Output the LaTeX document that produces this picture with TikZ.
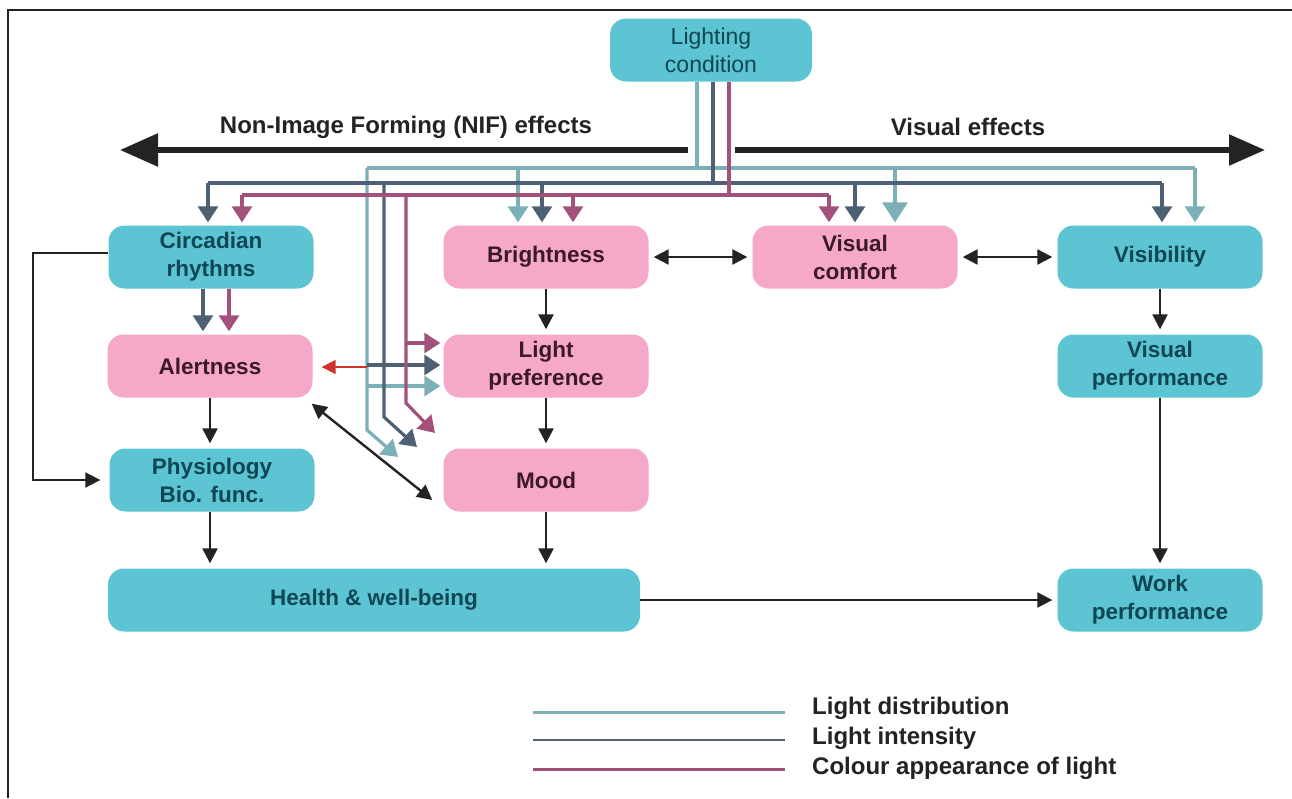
\documentclass[tikz,border=0pt]{standalone}
\usepackage{fontspec}
\setmainfont{Liberation Sans}
\usetikzlibrary{arrows.meta,calc}
\definecolor{boxteal}{RGB}{92,196,210}
\definecolor{boxpink}{RGB}{245,168,200}
\definecolor{tealtext}{RGB}{15,70,85}
\definecolor{pinktext}{RGB}{60,25,40}
\definecolor{distc}{RGB}{122,176,182}
\definecolor{intc}{RGB}{78,96,116}
\definecolor{colc}{RGB}{162,82,122}
\definecolor{redc}{RGB}{205,50,45}
\definecolor{ink}{RGB}{35,35,35}
\begin{document}
\begin{tikzpicture}[x=1pt,y=-1pt,
  boxbase/.style={rounded corners=16pt, minimum width=205pt, minimum height=63pt, inner sep=0pt, align=center, font=\fontsize{22.5}{28}\selectfont\bfseries},
  tealbox/.style={boxbase, fill=boxteal, text=tealtext},
  pinkbox/.style={boxbase, fill=boxpink, text=pinktext},
  dl/.style={distc, line width=3.2pt},
  il/.style={intc, line width=3.2pt},
  cl/.style={colc, line width=3.2pt},
  ctip/.style={-{Triangle[width=20pt,length=16pt]}, shorten >=3pt},
  bigtip/.style={-{Triangle[width=25pt,length=20pt]}, shorten >=3pt},
  blk/.style={ink, line width=2.4pt},
  btip/.style={-{Triangle[width=15pt,length=15pt]}, shorten >=5pt},
  bboth/.style={{Triangle[width=15pt,length=15pt]}-{Triangle[width=15pt,length=15pt]}, shorten >=5pt, shorten <=5pt},
  lbl/.style={text=ink, font=\fontsize{24}{28}\selectfont\bfseries, inner sep=0pt}
]
\useasboundingbox (0,0) rectangle (1292,798);
\fill[white] (0,0) rectangle (1292,798);
\draw[ink, line width=2.5pt] (8,798) -- (8,10) -- (1292,10);

% nodes
\node[tealbox, font=\fontsize{23}{28}\selectfont, minimum width=202pt] (lc) at (711,50) {Lighting\\condition};
\node[tealbox] (cr) at (211,257) {Circadian\\rhythms};
\node[pinkbox] (br) at (546,257) {Brightness};
\node[pinkbox] (vc) at (855,257) {Visual\\comfort};
\node[tealbox] (vis) at (1160,257) {Visibility};
\node[pinkbox] (al) at (210,366) {Alertness};
\node[pinkbox] (lp) at (546,366) {Light\\preference};
\node[tealbox] (vp) at (1160,366) {Visual\\performance};
\node[tealbox] (ph) at (212,480) {Physiology\\Bio. func.};
\node[pinkbox] (mo) at (546,480) {Mood};
\node[tealbox, minimum width=532pt] (hw) at (374,600) {Health \& well-being};
\node[tealbox] (wp) at (1160,600) {Work\\performance};

% big effect arrows
\coordinate (nifs) at (688,150);
\coordinate (nife) at (120,150);
\coordinate (ves) at (735,150);
\coordinate (vee) at (1265,150);
\draw[ink, line width=5.5pt, -{Triangle[width=32pt,length=38pt]}] (nifs) -- (nife);
\draw[ink, line width=5.5pt, -{Triangle[width=30pt,length=36pt]}] (ves) -- (vee);
\node[lbl] (nifl) at (406,127) {Non-Image Forming (NIF) effects};
\node[lbl] (vel) at (968,127) {Visual effects};

% light distribution
\draw[dl] ([xshift=-14pt]lc.south) -- (697,168);
\draw[dl] (367,168) -- (1195,168);
\draw[dl,ctip] (518,168) -- ([xshift=-28pt]br.north);
\draw[dl,bigtip] (895,168) -- ([xshift=40pt]vc.north);
\draw[dl,ctip] (1195,168) -- ([xshift=35pt]vis.north);
\draw[dl,ctip,shorten >=0pt] (367,168) -- (367,430) -- (398,457);
\draw[dl,ctip] (367,386) -- ([yshift=-20pt]lp.west);

% light intensity
\draw[il] ([xshift=2pt]lc.south) -- (713,183);
\draw[il] (208,183) -- (1162,183);
\draw[il,ctip] (208,183) -- ([xshift=-3pt]cr.north);
\draw[il,ctip,shorten >=0pt] (384,183) -- (384,417) -- (417,447);
\draw[il,ctip] (367,365) -- ([yshift=1pt]lp.west);
\draw[il,ctip] (542,183) -- ([xshift=-4pt]br.north);
\draw[il,ctip] (855,183) -- (vc.north);
\draw[il,ctip] (1162,183) -- ([xshift=2pt]vis.north);

% colour appearance
\draw[cl] ([xshift=18pt]lc.south) -- (729,195);
\draw[cl] (242,195) -- (829,195);
\draw[cl,ctip] (242,195) -- ([xshift=31pt]cr.north);
\draw[cl,ctip,shorten >=0pt] (406,195) -- (406,403) -- (435,433);
\draw[cl,ctip] (406,343) -- ([yshift=23pt]lp.west);
\draw[cl,ctip] (573,195) -- ([xshift=27pt]br.north);
\draw[cl,ctip] (829,195) -- ([xshift=-26pt]vc.north);

% circadian to alertness
\draw[il,ctip] ([xshift=-8pt]cr.south) -- ([xshift=-7pt]al.north);
\draw[cl,ctip] ([xshift=18pt]cr.south) -- ([xshift=19pt]al.north);

% red arrow to alertness
\draw[redc, line width=1.6pt, -{Triangle[width=14pt,length=14pt]}, shorten >=9pt] (367,367) -- (al.east |- 0,367);

% black connectors
\draw[blk,bboth] (br) -- (vc);
\draw[blk,bboth] (vc) -- (vis);
\draw[blk,btip] (br) -- (lp);
\draw[blk,btip] (lp) -- (mo);
\draw[blk,btip] (mo.south) -- (mo.south |- hw.north);
\draw[blk,btip] (al.south -| 210,0) -- (ph.north -| 210,0);
\draw[blk,btip] (ph.south -| 210,0) -- (hw.north -| 210,0);
\draw[blk,btip] (vis) -- (vp);
\draw[blk,btip] (vp) -- (wp);
\draw[blk,btip] (hw) -- (wp);
\draw[blk,bboth,shorten <=0pt,shorten >=0pt] ($(al.south east)+(-1,6)$) -- ($(mo.west)+(-11,20)$);
\draw[blk,line width=2pt,btip,shorten >=9pt] ([yshift=4pt]cr.west) -| (33,480) -- (ph.west);

% legend
\draw[distc, line width=3pt] (533,712) -- (785,712);
\draw[intc, line width=2.2pt] (533,740) -- (785,740);
\draw[colc, line width=3pt] (533,769) -- (785,769);
\node[lbl, anchor=west] (lg1) at (812,708) {Light distribution};
\node[lbl, anchor=west] (lg2) at (812,738) {Light intensity};
\node[lbl, anchor=west] (lg3) at (812,768) {Colour appearance of light};
\end{tikzpicture}
\end{document}
